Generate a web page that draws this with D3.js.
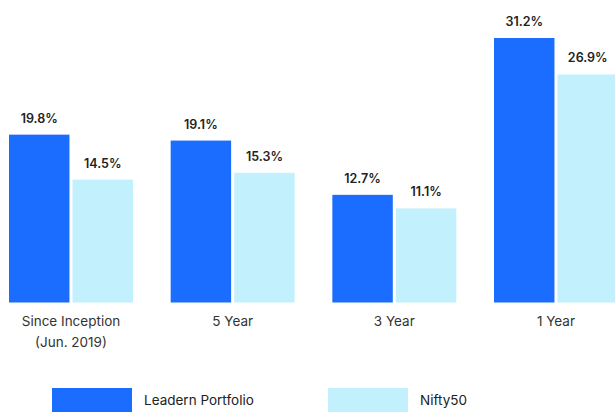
<!DOCTYPE html>
<html><head><meta charset="utf-8">
<script src="https://cdn.jsdelivr.net/npm/d3@7"></script>
<style>body{margin:0;background:#fff;}svg{display:block;font-family:Inter,"Open Sans",sans-serif;}</style>
</head><body>
<svg id="c" width="615" height="412"></svg>
<script>
const categories = [["Since Inception","(Jun. 2019)"],["5 Year"],["3 Year"],["1 Year"]];
const seriesNames = ["Leadern Portfolio","Nifty50"];
const portfolio = [19.8, 19.1, 12.7, 31.2];
const nifty = [14.5, 15.3, 11.1, 26.9];
const colors = ["#1a6dff","#c2f0fc"];

const svg = d3.select("#c");
const keys = categories.map(c => c.join(" "));
const x0 = d3.scaleBand().domain(keys).range([9, 618]).paddingInner(37.67/161.67).paddingOuter(0);
const x1 = d3.scaleBand().domain(seriesNames).range([0, x0.bandwidth()]).paddingInner(6/124).paddingOuter(0);
const y = d3.scaleLinear().domain([0, 31.2]).range([302.5, 38]);
const color = d3.scaleOrdinal().domain(seriesNames).range(colors);

const data = keys.map((k,i) => ({key:k, lines:categories[i], vals:[{s:seriesNames[0],v:portfolio[i]},{s:seriesNames[1],v:nifty[i]}]}));

const g = svg.selectAll("g.grp").data(data).join("g").attr("transform", d => `translate(${x0(d.key)},0)`);
g.selectAll("rect").data(d => d.vals).join("rect")
  .attr("x", d => x1(d.s)).attr("width", x1.bandwidth())
  .attr("y", d => y(d.v)).attr("height", d => y(0) - y(d.v))
  .attr("fill", d => color(d.s));
g.selectAll("text.val").data(d => d.vals).join("text").attr("class","val")
  .attr("x", d => x1(d.s) + x1.bandwidth()/2).attr("y", d => y(d.v) - 12)
  .attr("text-anchor","middle").attr("font-size","12.5px").attr("font-weight","600").attr("fill","#222")
  .text(d => d.v.toFixed(1) + "%");

g.each(function(d){
  const t = d3.select(this).append("text").attr("text-anchor","middle").attr("font-size","13.5px").attr("fill","#333");
  d.lines.forEach((ln,j) => t.append("tspan").attr("x", x0.bandwidth()/2).attr("y", 326 + j*21).text(ln));
});

const legX = [52, 328];
const lg = svg.selectAll("g.leg").data(seriesNames).join("g").attr("transform",(d,i)=>`translate(${legX[i]},388)`);
lg.append("rect").attr("width",80).attr("height",24).attr("fill", d => color(d));
lg.append("text").attr("x",92).attr("y",17).attr("font-size","13.5px").attr("fill","#222").text(d=>d);
</script>
</body></html>
